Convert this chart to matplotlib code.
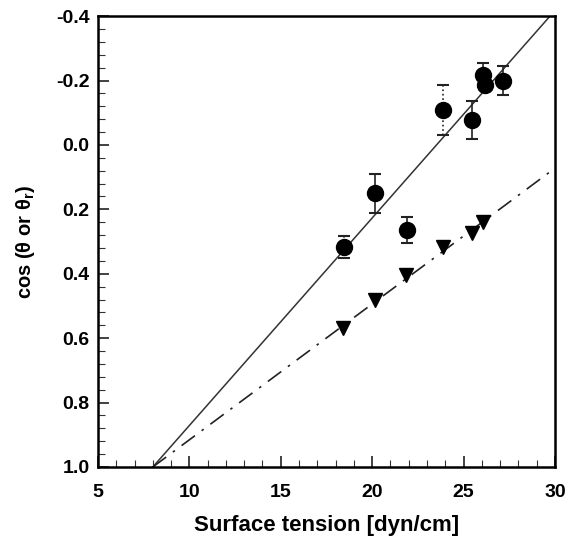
import matplotlib as mp
mp.use('Agg')
import matplotlib.pyplot as plt
from matplotlib.ticker import MultipleLocator

plt.rcParams['font.family'] = ['Liberation Sans', 'DejaVu Sans']
plt.rcParams['font.weight'] = 'bold'
plt.rcParams['mathtext.default'] = 'regular'

# advancing contact angle data (circles, with error bars)
adv_x = [18.45, 20.15, 21.9, 23.85, 25.45, 26.05, 26.2, 27.15]
adv_y = [0.317, 0.15, 0.265, -0.108, -0.077, -0.217, -0.186, -0.20]
adv_err = [0.035, 0.06, 0.04, 0.078, 0.06, 0.037, 0.0, 0.045]

# receding contact angle data (triangles)
rec_x = [18.4, 20.15, 21.85, 23.85, 25.45, 26.05]
rec_y = [0.569, 0.482, 0.404, 0.317, 0.274, 0.24]

# fitted lines
fit_adv_x = [8.0, 29.73]
fit_adv_y = [1.0, -0.4]
fit_rec_x = [8.0, 30.0]
fit_rec_y = [1.0, 0.072]

fig = plt.figure(figsize=(5.68, 5.38), dpi=100)
ax = fig.add_axes([0.1725, 0.132, 0.8045, 0.838])

ax.plot(fit_adv_x, fit_adv_y, color='#333333', lw=1.1)
ax.plot(fit_rec_x, fit_rec_y, color='#222222', lw=1.2, dashes=[10, 5, 1.5, 5])

eb = ax.errorbar(adv_x, adv_y, yerr=adv_err, fmt='o', color='black', ms=11.5,
                 ecolor='#222222', elinewidth=1.2, capsize=4, capthick=1.5)
eb[-1][0].set_linestyle([':', '-', '-', ':', '-', '-', '-', '-'])
ax.plot(rec_x, rec_y, 'v', color='black', ms=10, ls='none')

ax.set_xlim(5, 30)
ax.set_ylim(1.0, -0.4)
ax.xaxis.set_major_locator(MultipleLocator(5))
ax.xaxis.set_minor_locator(MultipleLocator(1))
ax.yaxis.set_major_locator(MultipleLocator(0.2))
ax.yaxis.set_minor_locator(MultipleLocator(0.04))
ax.yaxis.set_major_formatter(plt.FormatStrFormatter('%.1f'))
ax.tick_params(which='both', direction='in', top=False, right=False,
               labelsize=14, color='#333333')
ax.tick_params(which='major', length=8, width=1.3)
ax.tick_params(which='minor', length=5, width=0.8)
ax.tick_params(axis='x', which='major', pad=12)
ax.tick_params(axis='y', which='major', pad=6)
for s in ax.spines.values():
    s.set_linewidth(1.8)
for lab in ax.get_xticklabels() + ax.get_yticklabels():
    lab.set_fontweight('bold')

ax.set_xlabel('Surface tension [dyn/cm]', fontsize=16, fontweight='bold', labelpad=10)
ax.set_ylabel(r'cos (θ or θ$_r$)', fontsize=14.5, fontweight='bold', labelpad=14)

fig.savefig('out.png', dpi=100)
